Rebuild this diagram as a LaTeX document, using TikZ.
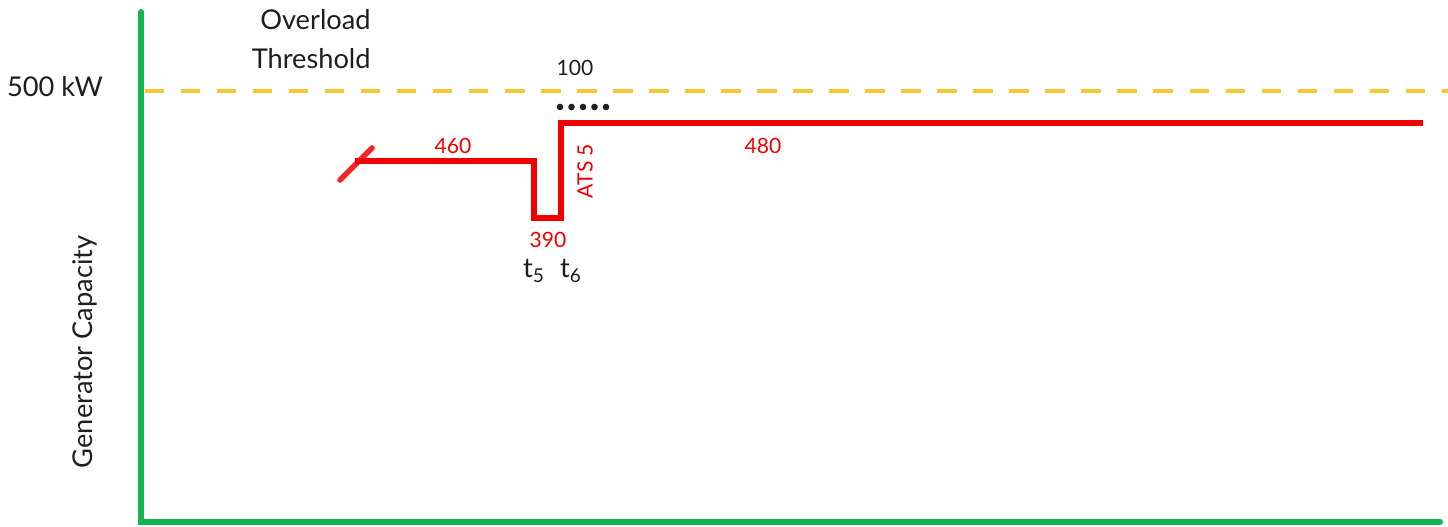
\documentclass[tikz,border=0pt]{standalone}
\usepackage{fontspec}
\setmainfont{Lato}
\usepackage{xcolor}
\usetikzlibrary{positioning}

\definecolor{axisgreen}{RGB}{20,180,80}
\definecolor{limityellow}{RGB}{250,200,50}
\definecolor{loadred}{RGB}{240,0,0}
\definecolor{txtgray}{RGB}{30,30,30}

\tikzset{
  axis/.style = {axisgreen, line width=3.4pt, line cap=round},
  limit/.style = {limityellow, line width=2.3pt, dash pattern=on 11pt off 9.5pt},
  load/.style = {loadred, line width=3.2pt},
  lbl/.style = {text=txtgray, font=\fontsize{15.5}{18}\selectfont, inner sep=0pt},
  redlbl/.style = {text=loadred, font=\fontsize{12}{14}\selectfont, inner sep=0pt},
}

\begin{document}
\begin{tikzpicture}[x=0.02cm, y=-0.02cm]
    \useasboundingbox (0,0) rectangle (1448,527);
    % Assi del grafico
    \coordinate (top) at (141,12);
    \coordinate (origin) at (141,522);
    \coordinate (xend) at (1440,522);
    \draw[axis] (top) -- (origin) -- (xend);

    % Soglia di sovraccarico
    \coordinate (th0) at (145,91);
    \coordinate (th1) at (1448,91);
    \draw[limit] (th0) -- (th1);
    \node[lbl] (kw) at (55,87) {500 kW};
    \node[lbl, align=right, anchor=east] (thr) at (371,39) {Overload\\[4pt]Threshold};
    \node[lbl, rotate=90] (gen) at (85,352) {Generator Capacity};

    % Profilo di carico
    \coordinate (a) at (355,161);
    \coordinate (b) at (534,161);
    \coordinate (c) at (534,218);
    \coordinate (d) at (561,218);
    \coordinate (e) at (561,123);
    \coordinate (f) at (1423,123);
    \coordinate (s0) at (340,180);
    \coordinate (s1) at (372,148);
    \draw[load, line cap=round, loadred!85] (s0) -- (s1);
    \draw[load] (a) -- (b) -- (c) -- (d) -- (e) -- (f);

    % Etichette del carico
    \node[redlbl] (l460) at (453,146) {460};
    \node[redlbl] (l390) at (548,240) {390};
    \node[redlbl] (l480) at (763,146) {480};
    \node[redlbl, rotate=90] (ats) at (585,171) {ATS 5};

    % Tempi
    \node[lbl] (t5) at (534,271) {t\textsubscript{5}};
    \node[lbl] (t6) at (571,271) {t\textsubscript{6}};

    % Passo di 100
    \node[lbl, font=\fontsize{12}{14}\selectfont] (step100) at (575,68) {100};
    \foreach \i in {0,...,4}
      \fill[txtgray] (560+11.5*\i,107) circle (3.3);
  \end{tikzpicture}
\end{document}
